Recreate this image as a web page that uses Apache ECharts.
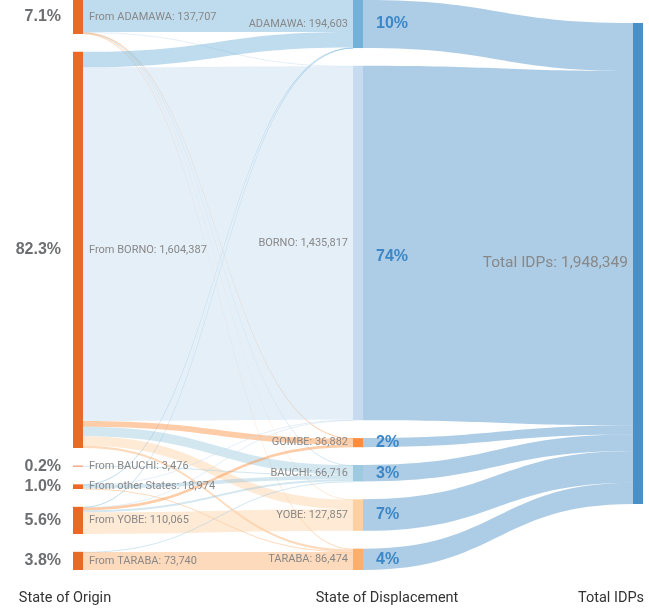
<!DOCTYPE html>
<html>
<head>
<meta charset="utf-8">
<title>IDPs by state of origin and displacement</title>
<script src="https://cdn.jsdelivr.net/npm/echarts@6/dist/echarts.min.js"></script>
<style>
  html, body { margin: 0; padding: 0; background: #fff; }
  #chart { width: 649px; height: 609px; }
</style>
</head>
<body>
<div id="chart"></div>
<script>
// state of origin (left column)
var originNames = ['ADAMAWA', 'BORNO', 'BAUCHI', 'other States', 'YOBE', 'TARABA'];
var originValues = [137707, 1604387, 3476, 18974, 110065, 73740];
var originPct = ['7.1%', '82.3%', '0.2%', '1.0%', '5.6%', '3.8%'];

// state of displacement (middle column)
var destNames = ['ADAMAWA', 'BORNO', 'GOMBE', 'BAUCHI', 'YOBE', 'TARABA'];
var destValues = [194603, 1435817, 36882, 66716, 127857, 86474];
var destPct = ['10%', '74%', '2%', '3%', '7%', '4%'];
var destColors = ['#72b2d9', '#c6dbef', '#fd8d3c', '#9ecae1', '#fdd0a2', '#fdae6b'];

// flows out of each origin, in destNames order
var fromAdamawa = [129207, 1200, 1800, 1000, 1500, 3000];
var fromBorno = [62896, 1432117, 24000, 38000, 38374, 9000];
var fromBauchi = [0, 0, 0, 3476, 0, 0];
var fromOther = [1000, 1000, 0, 15000, 0, 1974];
var fromYobe = [1500, 1500, 11082, 8000, 87983, 0];
var fromTaraba = [0, 0, 0, 1240, 0, 72500];
var flows = [fromAdamawa, fromBorno, fromBauchi, fromOther, fromYobe, fromTaraba];

var totalName = 'Total IDPs';
var totalValue = 1948349;

var columnTitles = ['State of Origin', 'State of Displacement', 'Total IDPs'];

var labelFont = "Roboto, 'Liberation Sans', sans-serif";
var pctFont = "'Liberation Sans', Arial, sans-serif";

function fmt(v) {
    return v.toLocaleString('en-US');
}

// names side: nodes, links and the grey labels
function nameNodes() {
    var list = [];
    originNames.forEach(function (n, i) {
        list.push({
            name: 'From ' + n,
            itemStyle: {color: '#e8692a'},
            label: {position: 'right', distance: 6, formatter: 'From ' + n + ': ' + fmt(originValues[i])}
        });
    });
    destNames.forEach(function (n, i) {
        list.push({
            name: n,
            itemStyle: {color: destColors[i]},
            label: {position: 'left', distance: 5, formatter: n + ': ' + fmt(destValues[i])}
        });
    });
    list.push({
        name: totalName,
        localY: 23 / 570,
        itemStyle: {color: '#4a8fc6'},
        label: {position: 'left', distance: 5, fontSize: 15.5, formatter: totalName + ': ' + fmt(totalValue)}
    });
    return list;
}

// percentage side: same nodes, only the bold share labels
function pctNodes() {
    var list = [];
    originNames.forEach(function (n, i) {
        list.push({
            name: 'From ' + n,
            label: {position: 'left', distance: 12, color: '#6d6e70', formatter: originPct[i]}
        });
    });
    destNames.forEach(function (n, i) {
        list.push({
            name: n,
            label: {
                position: 'right',
                distance: 13,
                color: '#3b87c8',
                offset: n === 'BORNO' ? [0, 14] : [0, 0],
                formatter: destPct[i]
            }
        });
    });
    list.push({name: totalName, localY: 23 / 570, label: {show: false}});
    return list;
}

function buildLinks() {
    var links = [];
    flows.forEach(function (row, i) {
        row.forEach(function (v, j) {
            if (v > 0) {
                links.push({source: 'From ' + originNames[i], target: destNames[j], value: v});
            }
        });
    });
    destNames.forEach(function (n, j) {
        links.push({source: n, target: totalName, value: destValues[j]});
    });
    return links;
}

var base = {
    type: 'sankey',
    left: 73,
    right: 6,
    top: 0,
    bottom: 39,
    nodeWidth: 10,
    nodeGap: 17.8,
    layoutIterations: 0,
    draggable: false,
    emphasis: {disabled: true}
};

var chart = echarts.init(document.getElementById('chart'));

var option = {
    animation: false,
    graphic: columnTitles.map(function (t, i) {
        return {
            type: 'text',
            x: [65, 387, 611][i],
            y: 598,
            style: {
                text: t,
                textAlign: 'center',
                textVerticalAlign: 'middle',
                font: '14.5px ' + labelFont,
                fill: '#333'
            }
        };
    }),
    series: [
        echarts.util.extend({
            data: nameNodes(),
            links: buildLinks(),
            lineStyle: {color: 'target', opacity: 0.45, curveness: 0.5},
            label: {show: true, fontSize: 11, color: '#888', fontFamily: labelFont}
        }, base),
        echarts.util.extend({
            silent: true,
            data: pctNodes(),
            links: buildLinks(),
            itemStyle: {color: 'rgba(0,0,0,0)'},
            lineStyle: {color: 'rgba(0,0,0,0)', opacity: 0},
            label: {show: true, fontSize: 16, fontWeight: 'bold', fontFamily: pctFont}
        }, base)
    ]
};

chart.setOption(option);
</script>
</body>
</html>
